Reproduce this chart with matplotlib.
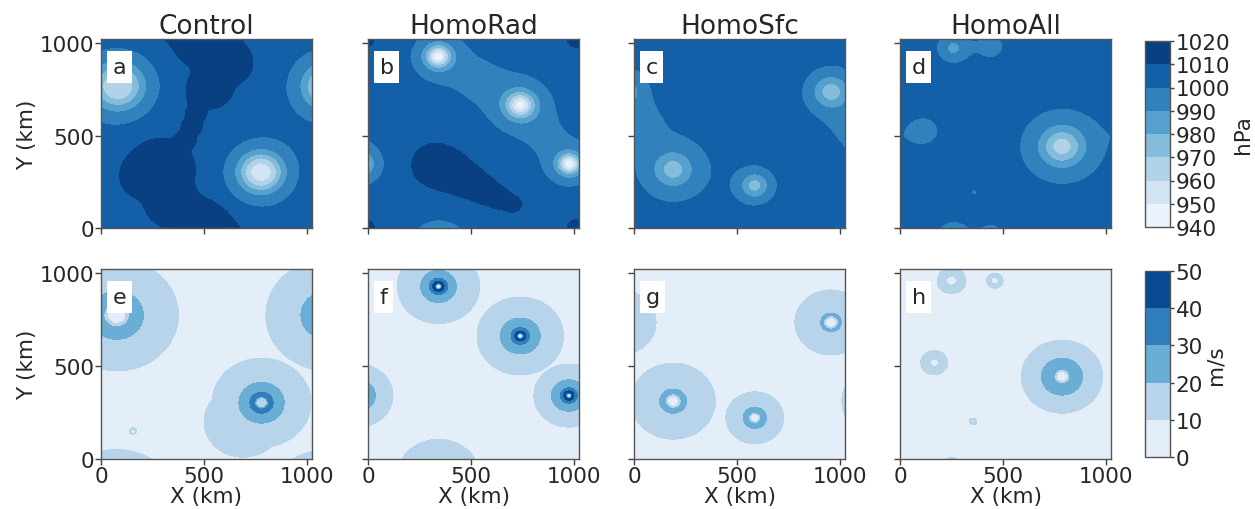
import numpy as np
import matplotlib
matplotlib.use('Agg')
from matplotlib import pyplot as plt

L = 1024.0   # doubly periodic domain (km)
N = 256

titles = ['Control', 'HomoRad', 'HomoSfc', 'HomoAll']
p_letters = ['a', 'b', 'c', 'd']
w_letters = ['e', 'f', 'g', 'h']

p_levels = np.arange(940, 1021, 10)
w_levels = np.arange(0, 51, 10)

# ---- surface pressure (hPa) ----
p_env = [1007.5, 1006.5, 1005.5, 1006.5]

# lows: centre (km), central deficit (hPa), size (km), profile exponent
low_x = [[82, 776], [341, 739, 977, 540, 860], [190, 956, 586, 40], [786, 258, 444, 118, 360]]
low_y = [[769, 302], [930, 666, 347, 800, 500], [317, 739, 230, 560], [442, 975, 983, 526, 194]]
low_dp = [[46, 53], [61.5, 58.5, 62.5, 5, 3.5], [30, 28, 27, 5], [41.5, 18.5, 9.5, 9.5, 7]]
low_a = [[118, 100], [55, 64, 50, 150, 120], [93, 85, 66, 110], [100, 58, 60, 70, 18]]
low_k = [[3, 3], [2.5, 2.5, 2.5, 3, 3], [2.4, 3, 3, 3], [2.4, 2.4, 2.4, 2.4, 2.4]]

# highs (flat-topped): centre (km), amplitude (hPa), radius (km)
high_x = [[505, 610, 525, 475, 460, 440, 412, 290, 210, 345, 455],
          [330, 410, 490, 570, 640, 700, 1010], [], []]
high_y = [[1010, 900, 760, 690, 620, 550, 480, 320, 280, 130, 40],
          [340, 300, 250, 200, 160, 130, 1024], [], []]
high_amp = [[13] * 11, [13] * 7, [], []]
high_r = [[150, 125, 110, 50, 50, 50, 50, 165, 110, 130, 115],
          [120, 105, 90, 75, 60, 45, 45], [], []]

# ---- near-surface wind speed (m/s) ----
w_bg = 5.0
tc_x = [[76, 779, 690, 155], [342, 739, 975], [190, 956, 586], [786, 250, 460, 166, 355]]
tc_y = [[775, 303, 200, 150], [930, 663, 342], [312, 736, 222], [444, 961, 961, 519, 203]]
tc_vmax = [[29, 38, 14, 12], [48, 46, 48], [26, 24, 27], [27, 16, 13, 16, 12]]
tc_rmax = [[75, 38, 60, 12], [20, 20, 18], [45, 40, 35], [45, 30, 20, 25, 8]]
tc_r20 = [[130, 110, 60, 12], [87, 97, 85], [65, 50, 57], [100, 30, 20, 25, 8]]
tc_r10 = [[300, 240, 190, 18], [200, 210, 170], [205, 175, 140], [197, 70, 40, 65, 18]]

xs = np.linspace(0, L, N)
X, Y = np.meshgrid(xs, xs)


def dist(x0, y0):
    dx = X - x0
    dy = Y - y0
    dx = dx - L * np.round(dx / L)
    dy = dy - L * np.round(dy / L)
    return np.hypot(dx, dy)


def pressure_field(i):
    p = np.full(X.shape, p_env[i])
    for x0, y0, A, s in zip(high_x[i], high_y[i], high_amp[i], high_r[i]):
        r = dist(x0, y0)
        p += A * np.exp(-(r / s)**4)
    for x0, y0, D, a, k in zip(low_x[i], low_y[i], low_dp[i], low_a[i], low_k[i]):
        r = dist(x0, y0)
        p -= D / (1 + (r / a)**k)
    return np.clip(p, 940.1, 1019.9)


def wind_profile(r, vm, rm, r20, r10):
    r = np.maximum(r, 1e-6)
    inner = vm * (r / rm)**2
    if vm > 20 and r20 > rm:
        n1 = np.log(vm / 20.0) / np.log(r20 / rm)
        n2 = np.log(2.0) / np.log(r10 / r20)
        outer = np.where(r < r20, vm * (rm / r)**n1, 20.0 * (r20 / r)**n2)
    else:
        n = np.log(vm / 10.0) / np.log(r10 / rm)
        outer = vm * (rm / r)**n
    return np.where(r < rm, inner, outer)


def wind_field(i):
    w = np.full(X.shape, w_bg)
    for x0, y0, vm, rm, r20, r10 in zip(tc_x[i], tc_y[i], tc_vmax[i], tc_rmax[i],
                                        tc_r20[i], tc_r10[i]):
        w = np.maximum(w, wind_profile(dist(x0, y0), vm, rm, r20, r10))
    return np.clip(w, 0.01, 49.9)


plt.rcParams['font.family'] = 'DejaVu Sans'
plt.rcParams['text.color'] = '#262626'
plt.rcParams['axes.labelcolor'] = '#262626'
plt.rcParams['xtick.color'] = '#404040'
plt.rcParams['ytick.color'] = '#404040'
plt.rcParams['xtick.labelcolor'] = '#262626'
plt.rcParams['ytick.labelcolor'] = '#262626'

fig = plt.figure(figsize=(12.55, 5.1), dpi=100)
W, H = 1255.0, 510.0
lefts = [101, 368, 634, 900]
aw = 211
rows = [(40, 229), (270, 460)]


def style_axes(ax, row, col):
    ax.set_xlim(0, L)
    ax.set_ylim(0, L)
    ax.set_xticks([0, 500, 1000])
    ax.set_yticks([0, 500, 1000])
    ax.tick_params(labelsize=15.5, length=4, width=1.0, pad=1)
    for s in ax.spines.values():
        s.set_color('#555555')
        s.set_linewidth(1.0)
    if col != 0:
        ax.set_yticklabels([])
    else:
        ax.set_ylabel('Y (km)', fontsize=15.5, labelpad=2)
    if row == 0:
        ax.set_xticklabels([])
    else:
        ax.set_xlabel('X (km)', fontsize=15.5, labelpad=0)


for col in range(4):
    for row in range(2):
        top, bot = rows[row]
        ax = fig.add_axes([lefts[col] / W, 1 - bot / H, aw / W, (bot - top) / H])
        if row == 0:
            cf_p = ax.contourf(xs, xs, pressure_field(col), levels=p_levels, cmap='Blues')
            ax.set_title(titles[col], fontsize=19, pad=3)
            letter = p_letters[col]
        else:
            cf_w = ax.contourf(xs, xs, wind_field(col), levels=w_levels, cmap='Blues')
            letter = w_letters[col]
        ax.text(0.055, 0.905, letter, transform=ax.transAxes, fontsize=16,
                va='top', ha='left',
                bbox=dict(facecolor='white', edgecolor='none', pad=4))
        style_axes(ax, row, col)

cax1 = fig.add_axes([1145 / W, 1 - 228 / H, 25 / W, 186 / H])
cb1 = fig.colorbar(cf_p, cax=cax1, ticks=p_levels)
cb1.set_label('hPa', fontsize=15.5, labelpad=2)
cax2 = fig.add_axes([1145 / W, 1 - 458 / H, 25 / W, 186 / H])
cb2 = fig.colorbar(cf_w, cax=cax2, ticks=w_levels)
cb2.set_label('m/s', fontsize=15.5, labelpad=2)
for cb in (cb1, cb2):
    cb.ax.tick_params(labelsize=15.5, length=3, width=1.0, pad=1)
    cb.outline.set_edgecolor('#555555')
    cb.outline.set_linewidth(1.0)

fig.savefig('out.png', dpi=100)
